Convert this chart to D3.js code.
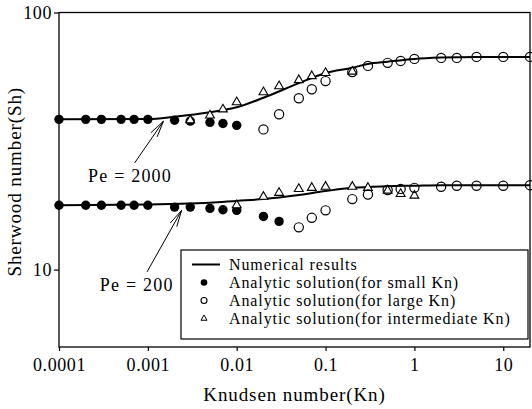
<!DOCTYPE html>
<html lang="en">
<head>
<meta charset="UTF-8">
<script src="https://d3js.org/d3.v7.min.js"></script>
<style>
  html, body { margin: 0; padding: 0; background: #fff; }
  svg { display: block; font-family: "Liberation Serif", "DejaVu Serif", serif; }
</style>
</head>
<body>
<svg width="532" height="409"></svg>
<script>
// ---- data ----
// Pe = 2000
const knNum2000 = [0.0001, 0.001, 0.002, 0.005, 0.01, 0.02, 0.05, 0.1, 0.2, 0.3, 0.5, 1, 2, 5, 20];
const shNum2000 = [38.4, 38.5, 39.3, 40.9, 42.8, 46.6, 53.1, 58.2, 61.0, 63.1, 64.4, 66.0, 66.8, 67.2, 67.2];
const knSmall2000 = [0.0001, 0.0002, 0.0003, 0.0005, 0.0007, 0.001, 0.002, 0.003, 0.005, 0.007, 0.01];
const shSmall2000 = [38.4, 38.4, 38.4, 38.4, 38.4, 38.4, 38.1, 37.8, 37.4, 37.0, 36.4];
const knLarge2000 = [0.02, 0.03, 0.05, 0.07, 0.1, 0.2, 0.3, 0.5, 0.7, 1, 2, 3, 5, 10, 20];
const shLarge2000 = [35.1, 40.2, 46.4, 50.3, 54.1, 58.7, 62.0, 63.7, 64.8, 66.0, 66.6, 66.6, 67.2, 67.2, 67.2];
const knInter2000 = [0.003, 0.005, 0.007, 0.01, 0.02, 0.03, 0.05, 0.07, 0.1, 0.2];
const shInter2000 = [38.1, 39.8, 42.0, 44.8, 49.0, 51.7, 54.6, 56.6, 58.2, 58.9];

// Pe = 200
const knNum200 = [0.0001, 0.001, 0.002, 0.005, 0.01, 0.02, 0.05, 0.1, 0.2, 0.5, 1, 2, 20];
const shNum200 = [17.8, 17.9, 18.0, 18.2, 18.5, 18.8, 19.5, 20.2, 20.8, 21.1, 21.2, 21.3, 21.3];
const knSmall200 = [0.0001, 0.0002, 0.0003, 0.0005, 0.0007, 0.001, 0.002, 0.003, 0.005, 0.007, 0.01, 0.02, 0.03];
const shSmall200 = [17.8, 17.8, 17.8, 17.8, 17.8, 17.8, 17.5, 17.5, 17.3, 17.1, 17.0, 16.1, 15.4];
const knLarge200 = [0.05, 0.07, 0.1, 0.2, 0.3, 0.5, 0.7, 1, 2, 3, 5, 10, 20];
const shLarge200 = [14.6, 15.9, 17.0, 18.8, 19.6, 20.4, 20.6, 20.8, 21.0, 21.2, 21.2, 21.2, 21.3];
const knInter200 = [0.01, 0.02, 0.03, 0.05, 0.07, 0.1, 0.2, 0.3, 0.5, 0.7, 1];
const shInter200 = [17.8, 19.2, 19.9, 20.6, 20.8, 21.0, 21.0, 20.8, 20.3, 19.7, 19.4];

const xTicks = [0.0001, 0.001, 0.01, 0.1, 1, 10];
const xTickLabels = ["0.0001", "0.001", "0.01", "0.1", "1", "10"];
const yTicks = [10, 100];
const yTickLabels = ["10", "100"];

const legendLabels = [
  "Numerical results",
  "Analytic solution(for small Kn)",
  "Analytic solution(for large Kn)",
  "Analytic solution(for intermediate Kn)"
];

// annotations: [text, text Kn, text Sh, arrow tail Kn, tail Sh, tip Kn, tip Sh]
const notes = [
  ["Pe = 2000", 0.00063, 23.2, 0.00071, 26.0, 0.0015, 37.8],
  ["Pe = 200", 0.00075, 8.7, 0.00098, 9.8, 0.0024, 17.0]
];

// ---- layout ----
const svg = d3.select("svg");
const mLeft = 59, mRight = 530, mTop = 12.5, mBottom = 347;

const x = d3.scaleLog().domain([0.0001, 20]).range([mLeft, mRight]);
const y = d3.scaleLog().domain([5, 100]).range([mBottom, mTop]);

const zip = (a, b) => a.map((d, i) => [d, b[i]]);

// frame
svg.append("rect")
  .attr("x", mLeft).attr("y", mTop)
  .attr("width", mRight - mLeft).attr("height", mBottom - mTop)
  .attr("fill", "none").attr("stroke", "#000").attr("stroke-width", 1.3);

// axes
const xAxis = svg.append("g")
  .attr("transform", `translate(0,${mBottom})`)
  .call(d3.axisBottom(x).tickValues(xTicks).tickFormat((d, i) => xTickLabels[i]).tickSize(4).tickPadding(7));
const yAxis = svg.append("g")
  .attr("transform", `translate(${mLeft},0)`)
  .call(d3.axisLeft(y).tickValues(yTicks).tickFormat((d, i) => yTickLabels[i]).tickSize(5).tickPadding(2));
[xAxis, yAxis].forEach(g => {
  g.select(".domain").remove();
  g.selectAll("line").attr("stroke-width", 1.2);
  g.selectAll("text").attr("font-family", "Liberation Serif").attr("font-size", 18)
    .attr("letter-spacing", 0.6).attr("fill", "#000");
});

svg.append("text")
  .attr("x", (mLeft + mRight) / 2).attr("y", 401)
  .attr("text-anchor", "middle").attr("font-size", 19).attr("letter-spacing", 0.9)
  .text("Knudsen number(Kn)");
svg.append("text")
  .attr("transform", `translate(21,${(mTop + mBottom) / 2 + 2}) rotate(-90)`)
  .attr("text-anchor", "middle").attr("font-size", 19).attr("letter-spacing", 0.9)
  .text("Sherwood number(Sh)");

// numerical curves
const line = d3.line().x(d => x(d[0])).y(d => y(d[1])).curve(d3.curveMonotoneX);
[zip(knNum2000, shNum2000), zip(knNum200, shNum200)].forEach(pts => {
  svg.append("path").attr("d", line(pts))
    .attr("fill", "none").attr("stroke", "#000").attr("stroke-width", 2);
});

const tri = d3.symbol().type(d3.symbolTriangle).size(34);

function triangles(pts) {
  svg.append("g").selectAll("path").data(pts).join("path")
    .attr("transform", d => `translate(${x(d[0])},${y(d[1])})`)
    .attr("d", tri())
    .attr("fill", "#fff").attr("stroke", "#000").attr("stroke-width", 1.1);
}
function dots(pts) {
  svg.append("g").selectAll("circle").data(pts).join("circle")
    .attr("cx", d => x(d[0])).attr("cy", d => y(d[1])).attr("r", 4.7)
    .attr("fill", "#000");
}
function rings(pts) {
  svg.append("g").selectAll("circle").data(pts).join("circle")
    .attr("cx", d => x(d[0])).attr("cy", d => y(d[1])).attr("r", 4.6)
    .attr("fill", "none").attr("stroke", "#000").attr("stroke-width", 1.2);
}

dots(zip(knSmall2000, shSmall2000));
dots(zip(knSmall200, shSmall200));
triangles(zip(knInter2000, shInter2000));
triangles(zip(knInter200, shInter200));
rings(zip(knLarge2000, shLarge2000));
rings(zip(knLarge200, shLarge200));

// annotations with arrows
notes.forEach(n => {
  const [label, tx, ty, ax, ay, bx, by] = n;
  const x0 = x(ax), y0 = y(ay), x1 = x(bx), y1 = y(by);
  svg.append("line").attr("x1", x0).attr("y1", y0).attr("x2", x1).attr("y2", y1)
    .attr("stroke", "#000").attr("stroke-width", 1);
  const ang = Math.atan2(y0 - y1, x0 - x1);
  [-0.22, 0.22].forEach(da => {
    svg.append("line").attr("x1", x1).attr("y1", y1)
      .attr("x2", x1 + 17 * Math.cos(ang + da)).attr("y2", y1 + 17 * Math.sin(ang + da))
      .attr("stroke", "#000").attr("stroke-width", 1);
  });
  svg.append("text").attr("x", x(tx)).attr("y", y(ty))
    .attr("text-anchor", "middle").attr("dominant-baseline", "central")
    .attr("font-size", 18).attr("letter-spacing", 1.2).text(label);
});

// legend
const lg = svg.append("g");
lg.append("rect").attr("x", 181).attr("y", 250).attr("width", 347).attr("height", 89)
  .attr("fill", "#fff").attr("stroke", "#000").attr("stroke-width", 1.2);
const rowY = [264.5, 282.5, 300.5, 318.5];
const symX = 204;
lg.append("line").attr("x1", 192).attr("x2", 220).attr("y1", rowY[0]).attr("y2", rowY[0])
  .attr("stroke", "#000").attr("stroke-width", 2);
lg.append("circle").attr("cx", symX).attr("cy", rowY[1]).attr("r", 3.3).attr("fill", "#000");
lg.append("circle").attr("cx", symX).attr("cy", rowY[2]).attr("r", 3)
  .attr("fill", "none").attr("stroke", "#000").attr("stroke-width", 1.1);
lg.append("path").attr("transform", `translate(${symX},${rowY[3]})`)
  .attr("d", d3.symbol().type(d3.symbolTriangle).size(16)())
  .attr("fill", "#fff").attr("stroke", "#000").attr("stroke-width", 1);
lg.selectAll("text.lab").data(legendLabels).join("text")
  .attr("class", "lab")
  .attr("x", 229).attr("y", (d, i) => rowY[i])
  .attr("dominant-baseline", "central").attr("font-size", 16).attr("letter-spacing", 0.9)
  .text(d => d);
</script>
</body>
</html>
